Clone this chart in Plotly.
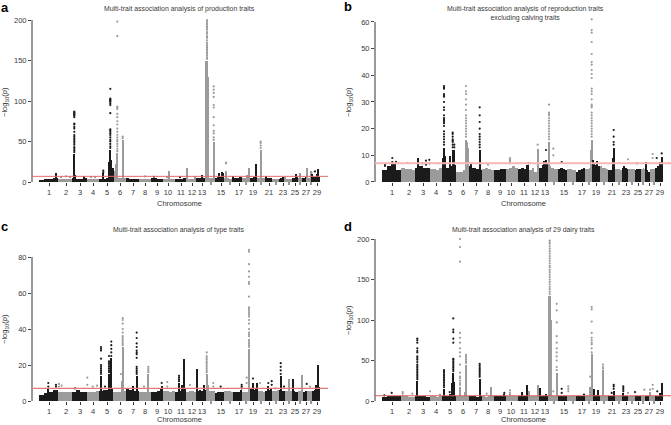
import bisect
import plotly.graph_objects as go

W, H = 671, 425
# chromosome boundaries along the genome axis
EDGES = [0,19,33,48,60,74,87,100,112,124,136,147,157,167,176,185,194,203,211,218,226,233,240,246,253,259,263,268,273,281]
TICKS = [10,27,41,54,68,81,94,106,118,129,142,153,163,182,200,214,230,244,256,267,278]
TICK_LABELS = ["1","2","3","4","5","6","7","8","9","10","11","12","13","15","17","19","21","23","25","27","29"]
UNLABELLED_TICKS = [172,191,207,222,237,250,261,272]

# band top, four readings along each chromosome
A_BAND = [[3,3.5,4,5.5],[4,4,4,4],[5,4.5,4,5],[4,4,4,3.5],[4,4.5,5,6],[5,5,5,5],[5,4.5,4,4.5],[4,4,4,4],[5,5,4.5,4.5],[4,4,4,4],
          [4,4,4,5],[4,4,4,4],[5,5,5,5],[6,5,5,5],[5,6,6,6],[5,5,4,4],[5,5,5,6],[5,5,5,5],[5,5,6,6],[5,5,5,5],
          [6,5,5,5],[4,4,4,4],[4,5,6,6],[4,4,4,4],[5,5,6,6],[5,5,5,5],[5,5,5,6],[5,5,5,5],[6,6,7,7]]
B_BAND = [[4.5,6,7,4.5],[5.5,5,5,4.5],[5.5,6,5.5,5.5],[5,5,4.5,5.5],[6,5.5,6,6.5],[4,4,4.5,6],[6,5.5,5,4.5],[5,5.5,5,4.5],[4.5,4.5,5,5],[5,5.5,6,5.5],
          [5,5.5,5,6.5],[4.5,5.5,4,4.5],[5.5,6.5,7,7],[6,5.5,5,5],[5,5.5,5,4.5],[5,5,4.5,4.5],[4,4.5,5,5.5],[5,5,5.5,6],[7,6.5,6.5,6],[6,5.5,5.5,5],
          [4.5,4.5,4.5,5],[5,5,5,4.5],[5.5,6,5.5,5],[5,5,5,5],[4.5,5,5,5],[5,5,5.5,5],[5.5,4.5,4,4],[5,5,5,5],[5.5,6,7,7.5]]
C_BAND = [[3.5,4.5,5,6],[5,5,5,5],[5,6,5,5],[5,5,5,5.5],[5.5,6,6,6.5],[5,5,5,5.5],[6.5,6,5.5,5.5],[5,5,5,5],[5,5,5.5,6.5],[5.5,5.5,5,5.5],
          [5,5.5,6.5,6.5],[5,5.5,5.5,5],[5.5,6,5.5,6],[6,5.5,5.5,5.5],[4.5,5,5,5],[5.5,5.5,5.5,5],[5,5,5,6],[5,5,5,5.5],[6.5,6.5,6,6.5],[5.5,5.5,5.5,5],
          [5.5,5.5,6,6.5],[5.5,5.5,5.5,6],[6,6.5,5.5,5.5],[5.5,5.5,6,5.5],[5,5.5,5,5],[5.5,5.5,5.5,5.5],[5,5,5,5.5],[5.5,5.5,5.5,5.5],[5.5,6,6.5,7.5]]
D_BAND = [[5,6,6.5,6],[6,6,5.5,5.5],[6,6,6,5.5],[6,6,5.5,6],[6,6.5,7,7],[6,6,6,6],[6,6,5.5,6.5],[6,5.5,6,6],[6,6,6.5,7],[6,6,6,6.5],
          [6,6,7,7],[6,6,6,6],[7,7,7,7],[6.5,6,6,6],[6,6.5,6.5,6],[6,6,6,6],[6,6,6,6.5],[6,6,6,6.5],[8,8,7.5,7],[6,6,6,6],
          [6,7,7,7],[6,6,6,6],[7,7,7,7],[6,6,6.5,6],[6,7,6.5,6],[6,6,6,6],[6,6.5,7,7],[6,6,6,6],[7,7,7,8]]

# (position, top of solid column)
A_STEMS = [(17,11),(35.3,35),(36.5,9),(64.3,11),(71.3,40),(70.5,25),(72.3,28),(73.7,17),(76,14),(77,22),(78.3,36),(83.7,52),(129.7,14),(147.7,18),(156,8),(163,9),(167.5,150),(168.5,150),(169.4,130),(174.7,50),(180,11),(182.7,13),(184.3,12),(187,14),(194.3,8),(201,7),(208,9),(210.3,18),(216.7,22),(221.7,40),(227,8),(246,7),(256.7,10),(261,11),(268,18),(271.7,14),(273.3,10),(279.3,16),(278,10)]
B_STEMS = [(10.3,7),(35.7,9),(62,13),(61,9),(63,10),(68,10),(70.7,12),(72.3,12),(84,16),(85,15),(86,13),(89,7),(97.7,12),(155.7,12.5),(164,8.5),(162,8),(167,15),(209.7,16),(208.7,12),(211.5,8.5),(214.7,8),(231.7,13),(230.7,9),(264,7.5),(279.7,9.5),(278,7.5)]
C_STEMS = [(9.3,7),(62,14),(70,15),(72.3,24),(71,14),(83.7,30),(82.7,11),(93.7,8),(97.7,14),(109.3,15),(122.7,8),(140,10),(144.7,23),(143.5,9),(158.3,17.5),(165,9),(167.7,15),(168.7,9),(210,29),(214,10),(217.7,10),(229.3,8),(241.7,14),(250.3,12),(253.7,12),(262.7,14.5),(279.3,20),(277.5,9)]
D_STEMS = [(35.3,25),(62,15),(67.7,9),(71.3,35),(70,22),(72.3,24),(78,18),(84,45),(83,12),(97.7,28),(109,17),(122.3,9),(140.3,12),(144.7,20),(147.3,13),(155.7,20),(158,16),(164,9),(167.2,130),(168.2,130),(169.2,100),(174.7,35),(209.7,58),(208.3,18),(212,15),(216.3,14),(221,38),(231.7,13),(241.3,10),(268,12),(279.7,22),(278,10)]

# (position, individually visible values)
A_DOTS = [
 (22,[6]),(27,[7]),(31,[6]),(45,[6]),(52,[6]),(56,[6]),(106,[7]),(115,[6.5]),(128,[6]),(141,[6]),
 (35.3,[37,39,41,43,46,48,50,52,54,56,58,62,66,68,71,72,80,82,83,84,85,86,87]),
 (64.3,[12,14]),
 (71.3,[42,44,47,50,52,55,58,60,62,64,65,85,95,97,99,100,101,102,103,115]),
 (78.3,[38,41,44,47,50,52,55,58,62,66,71,75,80,84,90,92,93,180,198]),
 (83.7,[54,56]),
 (168,[152,154,156,158,160,162,164,166,168,170,172,175,178,180,183,185,188,190,192,194,196,198,200]),
 (174.7,[52,55,60,63,70,80,92,95,105,110,114,118]),
 (187,[23,24]),(221.7,[42,45,48,50]),(276,[13]),(272.5,[12]),
]
B_DOTS = [
 (3,[6,6.5]),(10.3,[7.5,9]),(14,[7.6]),(25.7,[7.2]),(40.3,[7]),(44,[6.5,8]),(47.3,[7,8.3]),(56.3,[7]),
 (62,[14,15,16,17,18,19,21,22,22.5,23,23.5,24,25,27,28,30,32,32.5,33,35,35.5,36]),
 (70.7,[13,14,15,15.5,16,17,18,18.5]),(72.3,[13,14]),
 (84,[17,18,19,20,21,22,23,24,25,27,29,31,33,34,36]),
 (97.7,[13,14,15,16,17,18,20,22.5,25,28]),(106,[6.5]),(128,[7,7.5,8,8.5,9]),(146.3,[7]),(155.7,[14]),(164,[12]),
 (167,[16,17,18,19,20,21,22,23,24,25,25.5,26,29]),(171.3,[10,12.5]),(179.7,[7.5]),
 (209.7,[17,18,19,20,21,22,23,24,25,26,28,28.5,29,31,33,34,35,39,40.5,42,44,45,48,52.5,56,57,61]),
 (231.7,[14,15,17,19.5]),(246,[8.5]),(255,[7]),(270.7,[9,10.5]),(274.7,[9]),(279.7,[10.7]),
]
C_DOTS = [
 (9.3,[8,10]),(17,[8,9]),(20,[8,9.5]),(22.7,[8.5]),(36,[7]),(48.3,[9,13]),(53.7,[8]),(58,[8.5]),
 (62,[15,16,17,18,19,20,23.5,28,29,30]),(66,[8]),(70,[16,17,18,19,20,21,22,25]),(72.3,[25,27,29,31,33]),
 (82,[15]),(83.7,[31,32,33,34,35,36,38,40,43,45,46]),
 (97.7,[15,16,17,18,19,24,26,27,28,30,32,35,38]),(105,[8]),(109.3,[16,17,18,19]),(122.7,[10]),(128.3,[8,10.5]),
 (140,[11,12,13,14]),(151,[9]),(167.7,[16,17,18,19,20,21,22,23,24,25,27]),(174.3,[8,10]),(181.7,[8]),(202.7,[7,8,9]),
 (207.7,[10,13]),(210,[30,31,32,33,34,36,37,38,40,43,45,47,48,49,50,51,52,58,65,66,69,72,76,83,84]),
 (214,[12.5]),(221,[10]),(229.3,[10]),(232.7,[9,11]),(236.3,[7]),(241.7,[15,17,19,21]),(245,[8]),(267.7,[9.5]),(271,[8]),
]
D_DOTS = [
 (2.3,[7]),(9.7,[10]),(20.7,[9,11]),(30.3,[9]),
 (35.3,[27,29,31,33,35,37,39,41,43,45,48,51,53,55,60,62,65,72,75,77]),
 (48,[12]),(58,[8]),(62,[17,19,21,23,25,27,29,31,33,35,37,38]),(67.7,[11]),
 (71.3,[37,39,41,43,45,47,49,51,52,72,77,85,88,102]),
 (78,[20,22,25,28,30,35,45,55,60,65,72,78,84,172,190,200]),(84,[47,49,51,53,55,57]),
 (97.7,[30,32,34,36,38,40,42,44,46]),(104.7,[9]),(122.3,[10]),(128,[8,10,13]),
 (167.7,[132,135,138,141,144,147,150,153,156,159,162,165,167,170,173,176,179,182,185,188,191,194,196,198]),
 (171.3,[12]),(174.7,[38,42,50,55,60,65,72,80,97,112,120]),(179.7,[10,15]),(186.3,[12,15,18]),(202,[8]),
 (209.7,[60,65,70,72,75,78,84,98,113,116]),(208.3,[30]),(221,[40,42,45]),(229.7,[10]),(231.7,[15,18,20]),
 (241.3,[12,14,16,18]),(246,[10]),(253,[11]),(262.3,[14]),(268,[14]),(270.7,[15,20]),(275.3,[12]),
]

TITLES = ["Multi-trait association analysis of production traits",
          "Multi-trait association analysis of reproduction traits<br>excluding calving traits",
          "Multi-trait association analysis of type traits",
          "Multi-trait association analysis of 29 dairy traits"]
LETTERS = ["a","b","c","d"]
Y_MAX = [200,60,80,200]
Y_HEADROOM = [4,2,6,4]
Y_TICKS = [[0,50,100,150,200],[0,10,20,30,40,50,60],[0,20,40,60,80],[0,50,100,150,200]]
THRESHOLD = [7,7,7,6.5]
RED = [("#e26a6a",1),("#f4b6b6",2),("#e07a7a",1.2),("#d9605f",1)]
BANDS = [A_BAND,B_BAND,C_BAND,D_BAND]
STEMS = [A_STEMS,B_STEMS,C_STEMS,D_STEMS]
DOTS = [A_DOTS,B_DOTS,C_DOTS,D_DOTS]

# layout of each panel, in page pixels: left, right, top, bottom, and where its texts go
BOX = [(32,328,20,182),(375,671,22,182),(32,328,257,401),(375,671,239,401)]
X_OFF = [39,382,39,382]
TITLE_POS = [(179,9),(525,13),(179,230),(523,230)]
XLAB_POS = [(179,203),(523,203),(179,419),(523,419)]
YLAB_POS = [(5,102),(349,102),(5,329),(349,320)]
LETTER_POS = [(5,7),(348,6),(4,227),(348,226)]

BLACK, GREY = "#1b1b1b", "#9b9b9b"
FONT = "Liberation Sans, Arial, sans-serif"
TXT = "#383838"

def colour(x):
    i = bisect.bisect_right(EDGES, x) - 1
    return BLACK if i % 2 == 0 else GREY

fig = go.Figure()
ann, shapes = [], []
for p in range(4):
    l, r, t, b = BOX[p]
    sfx = "" if p == 0 else str(p + 1)
    xa, ya = "x" + sfx, "y" + sfx
    bx, by, bw, bc = [], [], [], []
    for i in range(29):
        step = (EDGES[i + 1] - EDGES[i]) / 4
        for j, top in enumerate(BANDS[p][i]):
            bx.append(EDGES[i] + step * (j + 0.5)); by.append(top); bw.append(step)
            bc.append(BLACK if i % 2 == 0 else GREY)
    fig.add_trace(go.Bar(x=bx, y=by, width=bw, xaxis=xa, yaxis=ya, showlegend=False,
                         marker=dict(color=bc, line_width=0)))
    sx = [s[0] for s in STEMS[p]]
    sy = [s[1] for s in STEMS[p]]
    fig.add_trace(go.Bar(x=sx, y=sy, width=[1.3] * len(sx), xaxis=xa, yaxis=ya, showlegend=False,
                         marker=dict(color=[colour(v) for v in sx], line_width=0)))
    dx, dy, dc = [], [], []
    for px_, vals in DOTS[p]:
        for v in vals:
            dx.append(px_); dy.append(v); dc.append(colour(px_))
    fig.add_trace(go.Scatter(x=dx, y=dy, mode="markers", xaxis=xa, yaxis=ya, showlegend=False, cliponaxis=False,
                             marker=dict(size=2.2, color=dc, line_width=0)))
    xn = "xaxis" + sfx
    yn = "yaxis" + sfx
    range_top = Y_MAX[p] + Y_HEADROOM[p]
    t_full = b - (b - t) * range_top / Y_MAX[p]
    fig.update_layout({
        xn: dict(domain=[l / W, r / W], range=[l - X_OFF[p], r - X_OFF[p]], anchor=ya, tickmode="array",
                 tickvals=TICKS, ticktext=TICK_LABELS, tickangle=0, ticks="outside", ticklen=3, tickwidth=1, tickcolor="#333",
                 showgrid=False, zeroline=False, showline=False, automargin=False,
                 tickfont=dict(size=7.5, color=TXT, family=FONT)),
        yn: dict(domain=[1 - b / H, 1 - t_full / H], range=[0, range_top], anchor=xa, tickmode="array",
                 tickvals=Y_TICKS[p], ticks="outside", ticklen=3, tickwidth=1, tickcolor="#444",
                 showgrid=False, zeroline=False, showline=False, automargin=False,
                 tickfont=dict(size=7.5, color=TXT, family=FONT)),
    })
    shapes.append(dict(type="line", xref=xa + " domain", yref=ya, x0=0, x1=0, y0=0, y1=Y_MAX[p],
                       line=dict(color="#555", width=1.2)))
    shapes.append(dict(type="line", xref=xa + " domain", yref=ya, x0=0, x1=1, y0=THRESHOLD[p], y1=THRESHOLD[p],
                       line=dict(color=RED[p][0], width=RED[p][1]), layer="above"))
    for v in UNLABELLED_TICKS:
        shapes.append(dict(type="line", xref=xa, yref="paper", x0=v, x1=v, y0=1 - b / H, y1=1 - (b + 3) / H,
                           line=dict(color="#333", width=1)))
    def text(pos, s, size, color=TXT, angle=0):
        ann.append(dict(xref="paper", yref="paper", x=pos[0] / W, y=1 - pos[1] / H, text=s, showarrow=False,
                        xanchor="center", yanchor="middle", textangle=angle,
                        font=dict(size=size, color=color, family=FONT)))
    text(TITLE_POS[p], TITLES[p], 6.9)
    text(XLAB_POS[p], "Chromosome", 7.5)
    text(YLAB_POS[p], "\u2212log<sub>10</sub>(<i>p</i>)", 7.5, angle=-90)
    text(LETTER_POS[p], "<b>" + LETTERS[p] + "</b>", 13, color="#000")

fig.update_layout(width=W, height=H, margin=dict(l=0, r=0, t=0, b=0, autoexpand=False), paper_bgcolor="white", plot_bgcolor="white",
                  barmode="overlay", bargap=0, showlegend=False, annotations=ann, shapes=shapes)
fig.write_html("out.html", config=dict(displayModeBar=False), post_script="document.body.style.margin='0';")
